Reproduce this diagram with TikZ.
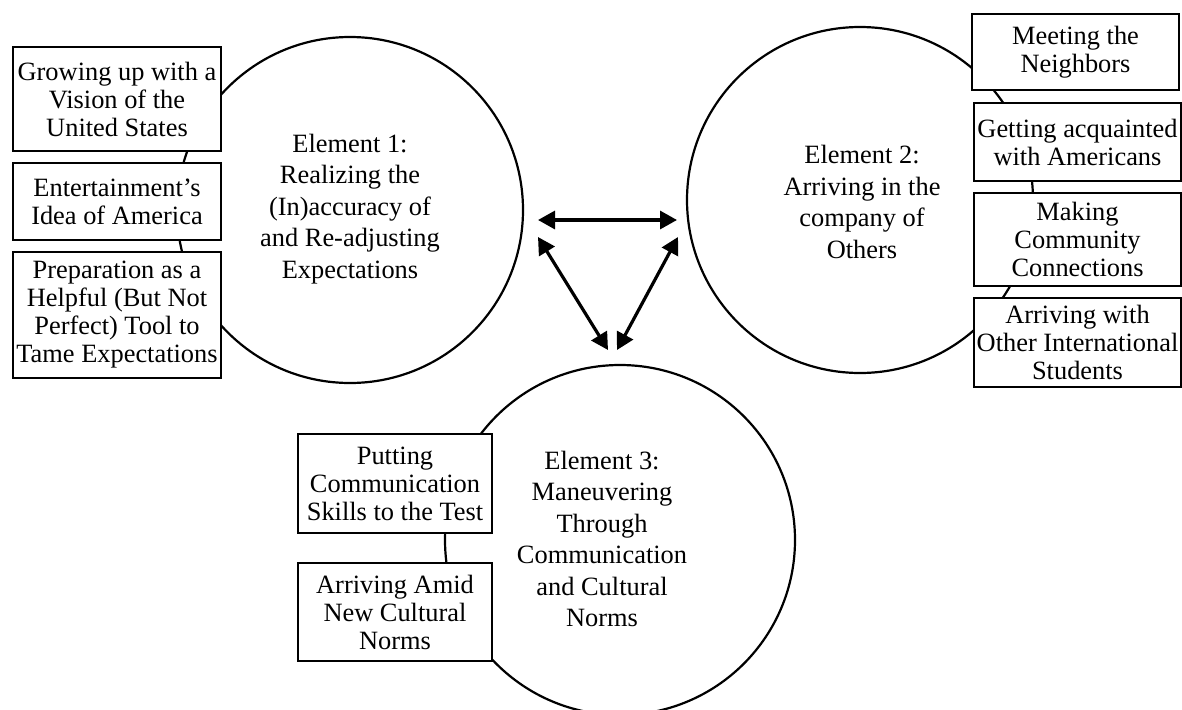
\documentclass[tikz,border=0pt]{standalone}
\usepackage{fontspec}
\setmainfont{Liberation Serif}
\usetikzlibrary{arrows.meta}
\begin{document}
\begin{tikzpicture}[x=1pt,y=-1pt,
  elem/.style={circle,draw,line width=2.2pt,inner sep=0pt},
  etext/.style={align=center,font=\fontsize{26.4}{31.5}\selectfont,inner sep=0pt},
  subbox/.style={draw,line width=2.6pt,fill=white,align=center,inner sep=0pt,font=\fontsize{26.4}{28}\selectfont},
  link/.style={line width=3.2pt,{Triangle[length=17pt,width=18pt]}-{Triangle[length=17pt,width=18pt]}}]
\useasboundingbox (0,0) rectangle (1182,709);
% circles
\node[elem,minimum size=346pt] (c1) at (350,210) {};
\node[elem,minimum size=346pt] (c2) at (860,200) {};
\node[elem,minimum size=350pt] (c3) at (620,540) {};
% element texts
\node[etext] (t1) at (350,209) {Element 1:\\Realizing the\\(In)accuracy of\\and Re-adjusting\\Expectations};
\node[etext] (t2) at (862,202) {Element 2:\\Arriving in the\\company of\\Others};
\node[etext] (t3) at (602,539) {Element 3:\\Maneuvering\\Through\\Communication\\and Cultural\\Norms};
% sub-theme boxes
\node[subbox,minimum width=208pt,minimum height=104pt] (b1) at (117,99) {Growing up with a\\Vision of the\\United States};
\node[subbox,minimum width=208pt,minimum height=77pt] (b2) at (117,201.5) {Entertainment’s\\Idea of America};
\node[subbox,minimum width=208pt,minimum height=126pt] (b3) at (117,315) {Preparation as a\\Helpful (But Not\\Perfect) Tool to\\Tame Expectations};
\node[subbox,minimum width=207pt,minimum height=76pt] (r1) at (1075.5,52) {Meeting the\\Neighbors};
\node[subbox,minimum width=207pt,minimum height=78pt] (r2) at (1077.5,142) {Getting acquainted\\with Americans};
\node[subbox,minimum width=207pt,minimum height=93pt] (r3) at (1077.5,239.5) {Making\\Community\\Connections};
\node[subbox,minimum width=207pt,minimum height=89pt] (r4) at (1077.5,342.5) {Arriving with\\Other International\\Students};
\node[subbox,minimum width=194pt,minimum height=99pt] (l1) at (395,483.5) {Putting\\Communication\\Skills to the Test};
\node[subbox,minimum width=194pt,minimum height=98pt] (l2) at (395,612) {Arriving Amid\\New Cultural\\Norms};
% arrows
\coordinate (a1) at (538,220);
\coordinate (a2) at (677,220);
\coordinate (a3) at (538,237);
\coordinate (a4) at (608,350);
\coordinate (a5) at (678,237);
\coordinate (a6) at (617,350);
\draw[link] (a1) -- (a2);
\draw[link] (a3) -- (a4);
\draw[link] (a5) -- (a6);
\end{tikzpicture}
\end{document}
